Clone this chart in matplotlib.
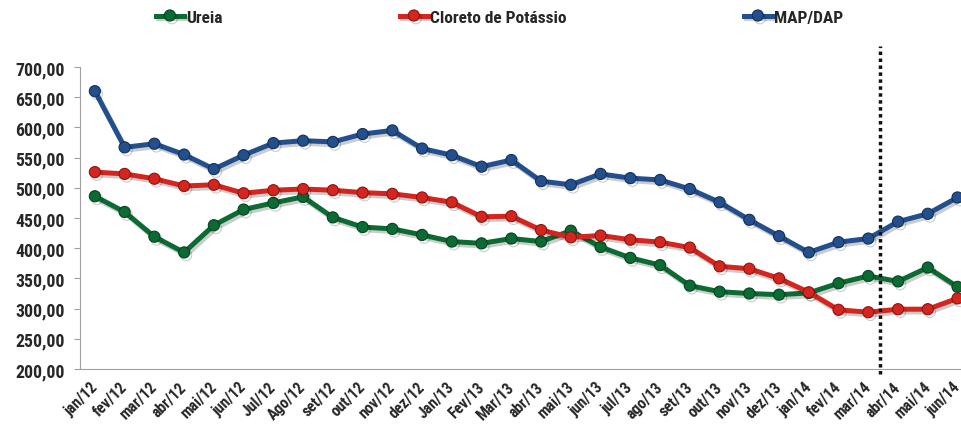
import matplotlib
matplotlib.use("Agg")
import matplotlib.pyplot as plt
import matplotlib.patheffects as pe
import matplotlib.transforms as mtransforms

plt.rcParams["font.family"] = ["Roboto Condensed", "DejaVu Sans"]
plt.rcParams["font.weight"] = "bold"

months = ["jan/12", "fev/12", "mar/12", "abr/12", "mai/12", "jun/12", "Jul/12", "Ago/12",
          "set/12", "out/12", "nov/12", "dez/12", "Jan/13", "Fev/13", "Mar/13", "abr/13",
          "mai/13", "jun/13", "jul/13", "ago/13", "set/13", "out/13", "nov/13", "dez/13",
          "jan/14", "fev/14", "mar/14", "abr/14", "mai/14", "jun/14"]

ureia = [486, 460, 419, 393, 438, 464, 475, 485, 451, 435, 432, 422, 411, 408, 416, 411,
         429, 402, 384, 372, 338, 328, 325, 323, 326, 342, 354, 345, 368, 336]
cloreto = [526, 523, 515, 503, 505, 491, 496, 498, 496, 492, 490, 484, 476, 452, 453, 430,
           418, 421, 414, 410, 401, 370, 366, 350, 327, 298, 294, 299, 299, 317]
map_dap = [660, 567, 573, 555, 531, 554, 574, 578, 576, 589, 595, 565, 554, 535, 546, 511,
           505, 523, 516, 513, 498, 476, 447, 420, 393, 410, 416, 444, 457, 484]

series = [("Ureia", ureia, "#0b6b33", "#054420"),
          ("Cloreto de Potássio", cloreto, "#d4261f", "#8e1510"),
          ("MAP/DAP", map_dap, "#234f8c", "#12305c")]

fig = plt.figure(figsize=(9.62, 4.27), dpi=100)
ax = fig.add_axes([80 / 962, 1 - 370 / 427, 1 - 80 / 962, (370 - 68) / 427])

x = list(range(len(months)))
shadow = [pe.SimpleLineShadow(offset=(1.5, -2), shadow_color="k", alpha=0.2), pe.Normal()]
for name, vals, col, edge in series:
    ax.plot(x, vals, color=col, lw=3.6, marker="o", markersize=8,
            markerfacecolor=col, markeredgecolor=edge, markeredgewidth=0.8,
            label=name, path_effects=shadow, zorder=3)

# dotted separator
ax.plot([26.4, 26.4], [191, 735], color="#111111", lw=2.5, linestyle=(0, (1, 1)),
        clip_on=False, zorder=4)

ax.set_ylim(200, 700)
ax.set_xlim(-0.5, 29.15)
ax.set_yticks(range(200, 701, 50))
ax.set_yticklabels([f"{v},00" for v in range(200, 701, 50)], fontsize=12.8, color="#262626")
ax.set_xticks(x)
ax.set_xticklabels([])
ax.tick_params(axis="x", length=0)
ax.tick_params(axis="y", length=4, color="#a0a0a0", pad=7)

# month labels, rotated, anchored just below the axis and nudged left
trans = ax.get_xaxis_transform() + mtransforms.ScaledTranslation(-5 / 100, -10 / 100,
                                                                  fig.dpi_scale_trans)
for i, m in enumerate(months):
    ax.text(i, 0, m, transform=trans, rotation=45, ha="right", va="top",
            rotation_mode="anchor", fontsize=11.3, color="#262626", clip_on=False)

for s in ["top", "right"]:
    ax.spines[s].set_visible(False)
for s in ["left", "bottom"]:
    ax.spines[s].set_color("#a0a0a0")

fig.legend(loc="center left", bbox_to_anchor=(156 / 962, 1 - 18 / 427), ncol=3, frameon=False,
           fontsize=12.5, handlelength=1.6, handletextpad=0.15, columnspacing=10.2,
           labelcolor="#262626", borderaxespad=0, borderpad=0)

fig.savefig("out.png", dpi=100)
